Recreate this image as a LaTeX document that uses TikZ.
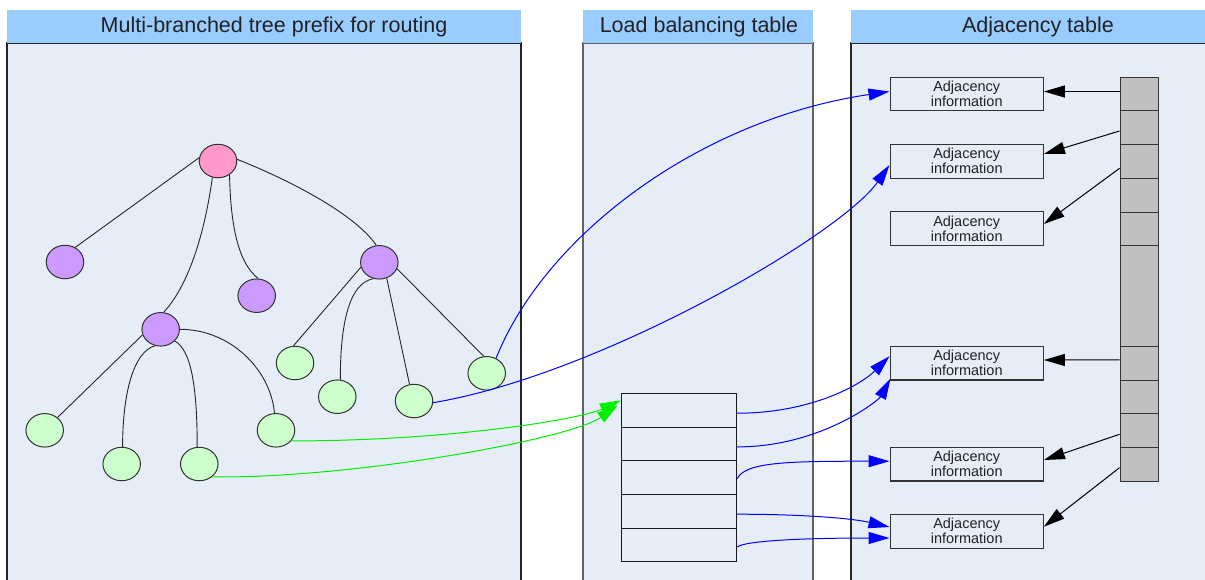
\documentclass[tikz,border=0pt]{standalone}
\usepackage{fontspec}
\setmainfont{Liberation Sans}
\usetikzlibrary{shapes.geometric,arrows.meta}

\definecolor{panelbg}{RGB}{230,237,247}
\definecolor{headbg}{RGB}{153,204,255}
\definecolor{rootc}{RGB}{255,153,204}
\definecolor{midc}{RGB}{204,153,255}
\definecolor{leafc}{RGB}{204,255,204}
\definecolor{cellgray}{RGB}{192,192,192}
\definecolor{ink}{RGB}{34,34,34}
\definecolor{edgegray}{RGB}{51,51,51}
\definecolor{framegray}{RGB}{100,100,100}
\definecolor{linkblue}{RGB}{0,0,255}
\definecolor{linkgreen}{RGB}{0,240,0}

\begin{document}
\begin{tikzpicture}[x=1pt,y=-1pt,
  tnode/.style={ellipse, draw=edgegray, line width=1pt, minimum width=37.5pt,
    minimum height=33.5pt, inner sep=0pt},
  rootnode/.style={tnode, fill=rootc},
  midnode/.style={tnode, fill=midc},
  leafnode/.style={tnode, fill=leafc},
  branch/.style={draw=black!85, line width=0.9pt},
  title/.style={anchor=base, text=ink, font=\fontsize{21.5}{25}\selectfont, inner sep=0pt},
  adjbox/.style={draw=edgegray, line width=1.1pt, fill=panelbg, minimum width=153.3pt,
    minimum height=33.5pt, inner sep=0pt, align=center, text=ink,
    font=\fontsize{14.5}{15}\selectfont},
  lbrow/.style={draw=black!90, line width=1pt, fill=panelbg, minimum width=115.4pt,
    minimum height=33.7pt, inner sep=0pt},
  cell/.style={draw=edgegray, line width=1pt, fill=cellgray, minimum width=38.3pt, inner sep=0pt},
  bluelink/.style={draw=linkblue, line width=1pt, -{Triangle[length=21pt,width=12pt]}},
  greenlink/.style={draw=linkgreen, line width=1pt, -{Triangle[length=21pt,width=12pt]}},
  ptr/.style={draw=black, line width=1pt, -{Triangle[length=21pt,width=12pt]}}
]
\useasboundingbox (0,0) rectangle (1205,579);
\fill[white] (0,0) rectangle (1205,579);

\begin{scope}
\clip (0,0) rectangle (1205,579);
% three column panels: header band and framed body
\fill[panelbg] (7,43) rectangle (521,600);
\draw[draw=black!85, line width=1.2pt] (7,600) -- (7,43) -- (521,43) -- (521,600);
\fill[headbg] (7,10) rectangle (521,43);
\node[title] (t1) at (274,32) {Multi-branched tree prefix for routing};

\fill[panelbg] (583,43) rectangle (813,600);
\draw[draw=framegray, line width=1.2pt] (583,600) -- (583,43) -- (813,43) -- (813,600);
\fill[headbg] (583,10) rectangle (813,43);
\node[title] (t2) at (699,32) {Load balancing table};

\fill[panelbg] (851,43) rectangle (1215,600);
\draw[draw=black!85, line width=1.2pt] (851,600) -- (851,43) -- (1215,43);
\fill[headbg] (851,10) rectangle (1215,43);
\node[title] (t3) at (1038,32) {Adjacency table};
\end{scope}

% routing prefix tree
\node[rootnode] (root) at (218,161) {};
\node[midnode] (A) at (65,262) {};
\node[midnode] (B) at (256.7,295.7) {};
\node[midnode] (C) at (379.3,262.3) {};
\node[midnode] (D) at (160.7,329.3) {};
\node[leafnode] (d1) at (44.7,430.3) {};
\node[leafnode] (d2) at (121.7,464) {};
\node[leafnode] (d3) at (199.3,464) {};
\node[leafnode] (d4) at (276,430.3) {};
\node[leafnode] (c1) at (295,363) {};
\node[leafnode] (c2) at (337.3,396.7) {};
\node[leafnode] (c3) at (414,401) {};
\node[leafnode] (c4) at (486.7,373.3) {};

\path[branch] (root.170) -- (A.55);
\path[branch] (root.251) .. controls +(-7,52) and +(26,-28) .. (D.80);
\path[branch] (root.310) .. controls +(1,57) and +(-18,-14) .. (B.85);
\path[branch] (root.5) .. controls +(53,21) and +(-21,-31) .. (C.100);
\path[branch] (C.195) -- (c1.95);
\path[branch] (C.250) .. controls +(-23,4) and +(0,-60) .. (c2.80);
\path[branch] (C.295) -- (c3.105);
\path[branch] (C.340) -- (c4.100);
\path[branch] (D.197) -- (d1.45);
\path[branch] (D.251) .. controls +(-22,6) and +(0,-52) .. (d2.87);
\path[branch] (D.320) .. controls +(17,9) and +(0,-57) .. (d3.97);
\path[branch] (D.0) .. controls +(50,0) and +(-4,-44) .. (d4.95);

% load balancing table
\node[lbrow] (lb1) at (679,410.2) {};
\node[lbrow] (lb2) at (679,443.9) {};
\node[lbrow] (lb3) at (679,477.5) {};
\node[lbrow] (lb4) at (679,511.2) {};
\node[lbrow] (lb5) at (679,544.9) {};

% adjacency entries
\node[adjbox] (b1) at (966.7,94) {Adjacency\\information};
\node[adjbox] (b2) at (966.7,161.3) {Adjacency\\information};
\node[adjbox] (b3) at (966.7,228.5) {Adjacency\\information};
\node[adjbox] (b4) at (966.7,363.2) {Adjacency\\information};
\node[adjbox] (b5) at (966.7,464.2) {Adjacency\\information};
\node[adjbox] (b6) at (966.7,531.3) {Adjacency\\information};

% adjacency index column
\node[cell, minimum height=33.4pt] (g1) at (1139.2,94) {};
\node[cell, minimum height=34pt] (g2) at (1139.2,127.7) {};
\node[cell, minimum height=33.6pt] (g3) at (1139.2,161.5) {};
\node[cell, minimum height=33.7pt] (g4) at (1139.2,195.15) {};
\node[cell, minimum height=33.3pt] (g5) at (1139.2,228.65) {};
\node[cell, minimum height=101pt] (g6) at (1139.2,295.8) {};
\node[cell, minimum height=33.7pt] (g7) at (1139.2,363.15) {};
\node[cell, minimum height=33.3pt] (g8) at (1139.2,396.65) {};
\node[cell, minimum height=34pt] (g9) at (1139.2,430.3) {};
\node[cell, minimum height=33.7pt] (g10) at (1139.2,464.15) {};

% pointers from the index column
\draw[ptr] ([yshift=2.5pt]g1.west) -- ([yshift=2.5pt]b1.east);
\draw[ptr] ([yshift=-3.3pt]g2.west) -- ([yshift=7.3pt]b2.east);
\draw[ptr] ([yshift=-6.8pt]g3.west) -- ([yshift=4.5pt]b3.east);
\draw[ptr] ([yshift=3.2pt]g7.west) -- ([yshift=3.2pt]b4.east);
\draw[ptr] ([yshift=-4pt]g9.west) -- ([yshift=4.2pt]b5.east);
\draw[ptr] ([yshift=-3.5pt]g10.west) -- ([yshift=4.6pt]b6.east);

% leaf prefixes to their next hops
\draw[bluelink] (c4.58) .. controls +(49,-123) and +(-190,28) .. ([yshift=2.5pt]b1.west);
\draw[bluelink] (c3.355) .. controls +(167,-28) and +(-49,70) .. ([yshift=-3.7pt]b2.west);
\draw[greenlink] (d4.325) .. controls +(158,0) and +(-41,19) .. ([yshift=-7.5pt]lb1.north west);
\draw[greenlink] (d3.315) .. controls +(138,2) and +(-48,34) .. ([xshift=-3pt,yshift=-12.5pt]lb1.north west);

% load balancing rows to adjacency entries
\draw[bluelink] ([yshift=-3pt]lb1.east) .. controls +(73,0) and +(-29,29) .. ([yshift=7pt]b4.west);
\draw[bluelink] ([yshift=-3pt]lb2.east) .. controls +(83,0) and +(-12,22) .. ([xshift=1pt,yshift=2pt]b4.south west);
\draw[bluelink] ([yshift=-1.2pt]lb3.east) .. controls +(8,-17) and +(-99,0) .. ([yshift=3pt]b5.west);
\draw[bluelink] ([yshift=-3pt]lb4.east) .. controls +(63,0) and +(-39,-9) .. ([yshift=4.3pt]b6.west);
\draw[bluelink] ([yshift=-2pt]lb5.east) .. controls +(8,-6) and +(-89,0) .. ([yshift=-6.7pt]b6.west);
\end{tikzpicture}
\end{document}
